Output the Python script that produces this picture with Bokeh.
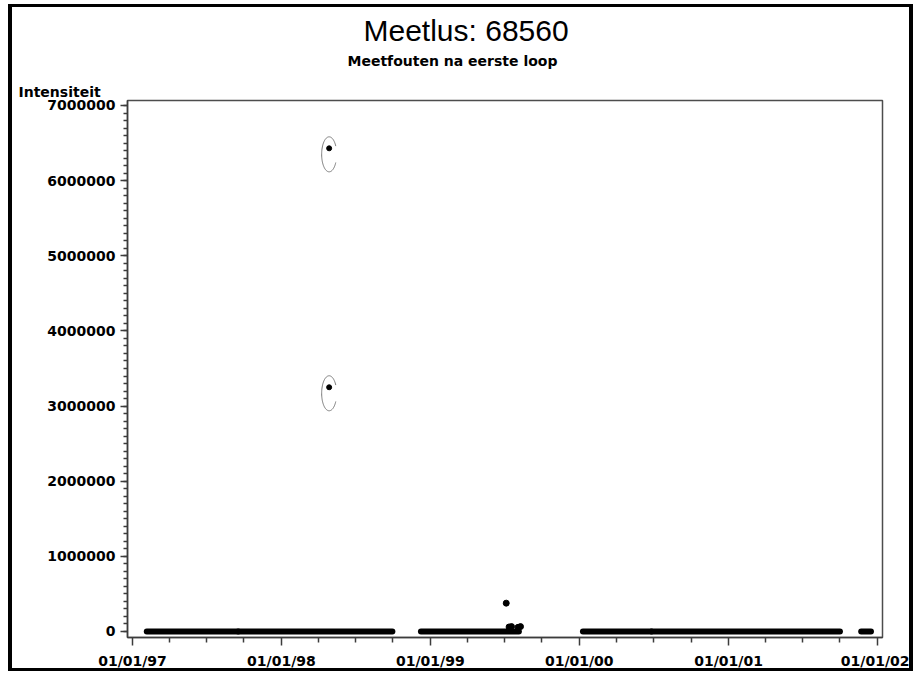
import numpy as np
from bokeh.plotting import figure
from bokeh.models import Title, FixedTicker, SingleIntervalTicker, BasicTickFormatter, Range1d
from bokeh.embed import file_html
from bokeh.resources import INLINE


def ms(s):
    return int(np.datetime64(s, "ms").astype(np.int64))


# ---------------- data ----------------
# runs of (near-)zero measurements: start / end dates
seg_start = ["1997-02-05", "1997-09-17", "1998-12-09", "2000-01-10", "2000-06-26", "2001-11-22"]
seg_end = ["1997-09-17", "1998-09-30", "1999-08-06", "2000-06-26", "2001-10-01", "2001-12-16"]
seg_value = [0, 0, 0, 0, 0, 0]

# circled outliers
outlier_dates = ["1998-04-28", "1998-04-28"]
outlier_values = [6430000, 3250000]

# other isolated points
point_dates = ["1999-07-06", "1999-07-13", "1999-07-19", "1999-08-04", "1999-08-10"]
point_values = [377000, 60000, 65000, 55000, 65000]

tick_dates = ["1997-01-01", "1998-01-01", "1999-01-01", "2000-01-01", "2001-01-01", "2002-01-01"]
tick_labels = ["01/01/97", "01/01/98", "01/01/99", "01/01/00", "01/01/01", "01/01/02"]
minor_dates = [f"{y}-{m:02d}-01" for y in range(1997, 2002) for m in (4, 7, 10)]

title_text = "Meetlus: 68560"
subtitle_text = "Meetfouten na eerste loop"
ylabel_text = "Intensiteit"

# ---------------- figure ----------------
x_start, x_end = ms("1996-12-19T18:00"), ms("2002-01-13T06:00")
y_start, y_end = -80000, 7066500
FRAME_W, FRAME_H = 755, 537

p = figure(
    width=905, height=667, title=None,
    x_range=Range1d(x_start, x_end), y_range=Range1d(y_start, y_end),
    output_backend="svg", toolbar_location=None,
    min_border_left=115, min_border_right=35, min_border_top=93, min_border_bottom=37,
    background_fill_color="white", border_fill_color="white",
)
p.styles = {
    "border-style": "solid",
    "border-color": "black",
    "border-width": "3px 4px 3px 4px",
    "margin": "4px 0px 0px 8px",
}
p.xgrid.grid_line_color = None
p.ygrid.grid_line_color = None
p.outline_line_color = "#4d4d4d"
p.outline_line_width = 1.5

AX = "#3c3c3c"
LABEL_FONT = "DejaVu Sans"

# x axis
xa = p.xaxis[0]
xa.ticker = FixedTicker(ticks=[ms(d) for d in tick_dates], minor_ticks=[ms(d) for d in minor_dates])
xa.major_label_overrides = {ms(d): lab for d, lab in zip(tick_dates, tick_labels)}
xa.axis_line_color = AX
xa.axis_line_width = 1.5
xa.major_tick_line_color = AX
xa.minor_tick_line_color = AX
xa.major_tick_line_width = 1.5
xa.minor_tick_line_width = 1.5
xa.major_tick_out = 8
xa.major_tick_in = 0
xa.minor_tick_out = 5
xa.minor_tick_in = 0
xa.major_label_standoff = 7
xa.major_label_text_font = LABEL_FONT
xa.major_label_text_font_style = "bold"
xa.major_label_text_font_size = "14px"
xa.major_label_text_color = "black"

# y axis
ya = p.yaxis[0]
ya.ticker = SingleIntervalTicker(interval=1000000, num_minor_ticks=10)
ya.formatter = BasicTickFormatter(use_scientific=False)
ya.axis_line_color = AX
ya.axis_line_width = 1.5
ya.major_tick_line_color = AX
ya.minor_tick_line_color = AX
ya.major_tick_line_width = 1.5
ya.minor_tick_line_width = 1.5
ya.major_tick_out = 7
ya.major_tick_in = 0
ya.minor_tick_out = 4
ya.minor_tick_in = 0
ya.major_label_standoff = 5
ya.major_label_text_font = LABEL_FONT
ya.major_label_text_font_style = "bold"
ya.major_label_text_font_size = "14px"
ya.major_label_text_color = "black"

# ---------------- marks ----------------
p.segment(
    x0=[ms(d) for d in seg_start], y0=seg_value,
    x1=[ms(d) for d in seg_end], y1=seg_value,
    line_color="black", line_width=6, line_cap="round",
)
p.scatter([ms(d) for d in point_dates], point_values, size=6, color="black")
p.scatter([ms(d) for d in outlier_dates], outlier_values, size=5, color="black")

# "C"-shaped rings around the outliers (drawn in pixel geometry)
xpp = (x_end - x_start) / FRAME_W
ypp = (y_end - y_start) / FRAME_H
t = np.radians(np.linspace(28, 332, 80))
ring_xs, ring_ys = [], []
for d, v in zip(outlier_dates, outlier_values):
    cx = ms(d)
    cy = v - 6 * ypp
    ring_xs.append(list(cx + 7.5 * np.cos(t) * xpp))
    ring_ys.append(list(cy + 17.5 * np.sin(t) * ypp))
p.multi_line(ring_xs, ring_ys, line_color="#7a7a7a", line_width=1)

# ---------------- texts (inner to outer) ----------------
p.add_layout(Title(text=ylabel_text, align="left", offset=-109, standoff=1,
                   text_font=LABEL_FONT, text_font_style="bold", text_font_size="14px",
                   text_color="black"), "above")
p.add_layout(Title(text=subtitle_text, align="left", offset=220, standoff=25,
                   text_font=LABEL_FONT, text_font_style="bold", text_font_size="14px",
                   text_color="black"), "above")
p.add_layout(Title(text=title_text, align="left", offset=236, standoff=-17,
                   text_font="Liberation Sans", text_font_style="normal",
                   text_font_size="30px", text_color="black"), "above")

open("out.html", "w").write(file_html(p, INLINE))
